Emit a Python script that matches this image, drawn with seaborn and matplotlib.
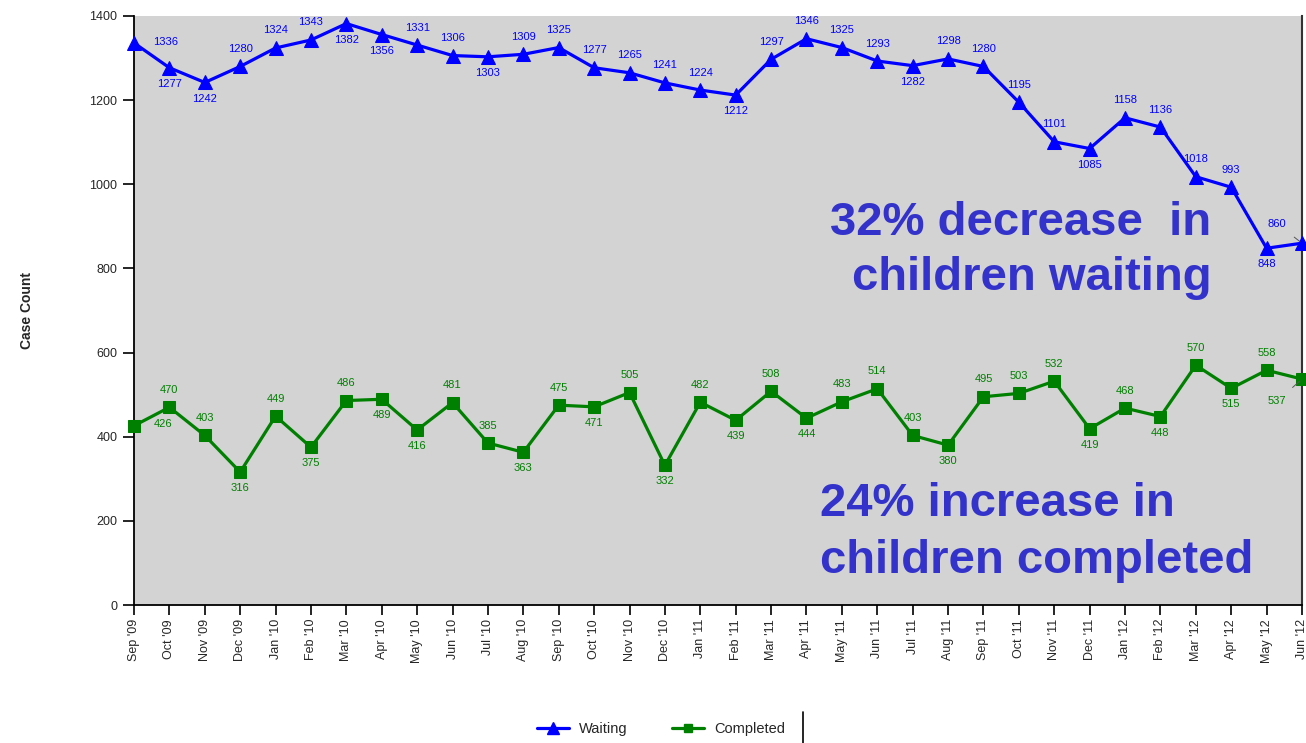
import matplotlib
matplotlib.use("Agg")
import matplotlib.pyplot as plt
from matplotlib.lines import Line2D
import seaborn as sns
import pandas as pd

# ---- data ----
months = ["Sep '09", "Oct '09", "Nov '09", "Dec '09",
          "Jan '10", "Feb '10", "Mar '10", "Apr '10", "May '10", "Jun '10",
          "Jul '10", "Aug '10", "Sep '10", "Oct '10", "Nov '10", "Dec '10",
          "Jan '11", "Feb '11", "Mar '11", "Apr '11", "May '11", "Jun '11",
          "Jul '11", "Aug '11", "Sep '11", "Oct '11", "Nov '11", "Dec '11",
          "Jan '12", "Feb '12", "Mar '12", "Apr '12", "May '12", "Jun '12"]

waiting = [1336, 1277, 1242, 1280, 1324, 1343, 1382, 1356, 1331, 1306,
           1303, 1309, 1325, 1277, 1265, 1241, 1224, 1212, 1297, 1346,
           1325, 1293, 1282, 1298, 1280, 1195, 1101, 1085, 1158, 1136,
           1018, 993, 848, 860]

completed = [426, 470, 403, 316, 449, 375, 486, 489, 416, 481,
             385, 363, 475, 471, 505, 332, 482, 439, 508, 444,
             483, 514, 403, 380, 495, 503, 532, 419, 468, 448,
             570, 515, 558, 537]

yticks = [0, 200, 400, 600, 800, 1000, 1200, 1400]

# label placement codes: a = above, b = below, r = right, l = left with leader
waiting_pos = list("rbbaaabbaabaaaaaabaaaabaaaabaaaabl")
completed_pos = list("raabababbaabababababaaabaaababab" "al")

# ---- style ----
W, H = 1306, 743
DPI = 100
sns.set_style("white")
plt.rcParams["font.family"] = ["Liberation Sans", "DejaVu Sans"]

BLUE = "#0000FF"
GREEN = "#008000"
NOTE = "#3333CC"

fig = plt.figure(figsize=(W / DPI, H / DPI), dpi=DPI)
ax = fig.add_axes([134 / W, 1 - 605 / H, (1302 - 134) / W, (605 - 16) / H])
ax.set_facecolor("#D3D3D3")

x = list(range(len(months)))
df = pd.DataFrame({"x": x + x,
                   "value": waiting + completed,
                   "series": ["Waiting"] * len(x) + ["Completed"] * len(x)})

sns.lineplot(data=df[df.series == "Waiting"], x="x", y="value", ax=ax,
             color=BLUE, lw=2.3, marker="^", markersize=10,
             markeredgecolor=BLUE, clip_on=False, zorder=4, label="Waiting")
sns.lineplot(data=df[df.series == "Completed"], x="x", y="value", ax=ax,
             color=GREEN, lw=2.3, marker="s", markersize=8.5,
             markeredgecolor=GREEN, clip_on=False, zorder=4, label="Completed")


def put_labels(vals, pos, color):
    for i, (v, p) in enumerate(zip(vals, pos)):
        if p == "a":
            ax.annotate(str(v), (i, v), xytext=(0, 9), textcoords="offset points",
                        ha="center", va="bottom", fontsize=8, color=color, zorder=5)
        elif p == "b":
            ax.annotate(str(v), (i, v), xytext=(0, -8), textcoords="offset points",
                        ha="center", va="top", fontsize=8, color=color, zorder=5)
        elif p == "r":
            ax.annotate(str(v), (i, v), xytext=(14, 1), textcoords="offset points",
                        ha="left", va="center", fontsize=8, color=color, zorder=5)
        elif p == "l":
            up = v > 700
            ax.annotate(str(v), (i, v),
                        xytext=(-18, 14 if up else -16), textcoords="offset points",
                        ha="center", va="center", fontsize=8, color=color, zorder=5,
                        arrowprops=dict(arrowstyle="-", color="#555555", lw=0.7,
                                        shrinkA=6, shrinkB=2))


put_labels(waiting, waiting_pos, BLUE)
put_labels(completed, completed_pos, GREEN)

# ---- axes ----
ax.set_xlim(0, len(months) - 1)
ax.set_ylim(0, 1400)
ax.set_xticks(x)
ax.set_xticklabels(months, rotation=90, fontsize=9)
ax.set_yticks(yticks)
ax.set_yticklabels([str(t) for t in yticks], fontsize=9)
ax.tick_params(axis="y", direction="out", length=8, width=1.2, color="black",
               left=True, pad=4)
ax.tick_params(axis="x", direction="out", length=7, width=1.2, color="black",
               bottom=True, pad=3)
ax.set_xlabel("")
ax.set_ylabel("Case Count", fontsize=10, fontweight="bold", labelpad=40)
for side in ["left", "bottom"]:
    ax.spines[side].set_color("black")
    ax.spines[side].set_linewidth(1.3)
ax.spines["right"].set_color("#333333")
ax.spines["right"].set_linewidth(1.5)
ax.spines["top"].set_visible(False)

ax.legend_.remove()
handles = [Line2D([0], [0], color=BLUE, lw=2.3, marker="^", markersize=8),
           Line2D([0], [0], color=GREEN, lw=2.3, marker="s", markersize=6)]
fig.legend(handles, ["Waiting", "Completed"], loc="center",
           bbox_to_anchor=(661 / W, 1 - 729 / H), ncol=2, frameon=False,
           fontsize=10.5, handlelength=2.2, columnspacing=3.0, handletextpad=0.7)
fig.add_artist(Line2D([803 / W, 803 / W], [1 - 712 / H, 0.0], color="black", lw=1.2))

# ---- call-out notes ----
note_kw = dict(fontsize=34, fontweight="bold", color=NOTE, va="baseline")
fig.text(1211 / W, 1 - 235 / H, "32% decrease  in", ha="right", **note_kw)
fig.text(1212 / W, 1 - 290 / H, "children waiting", ha="right", **note_kw)
fig.text(820 / W, 1 - 516 / H, "24% increase in", ha="left", **note_kw)
fig.text(820 / W, 1 - 573 / H, "children completed", ha="left", **note_kw)

fig.savefig("out.png", dpi=DPI, facecolor="white")
